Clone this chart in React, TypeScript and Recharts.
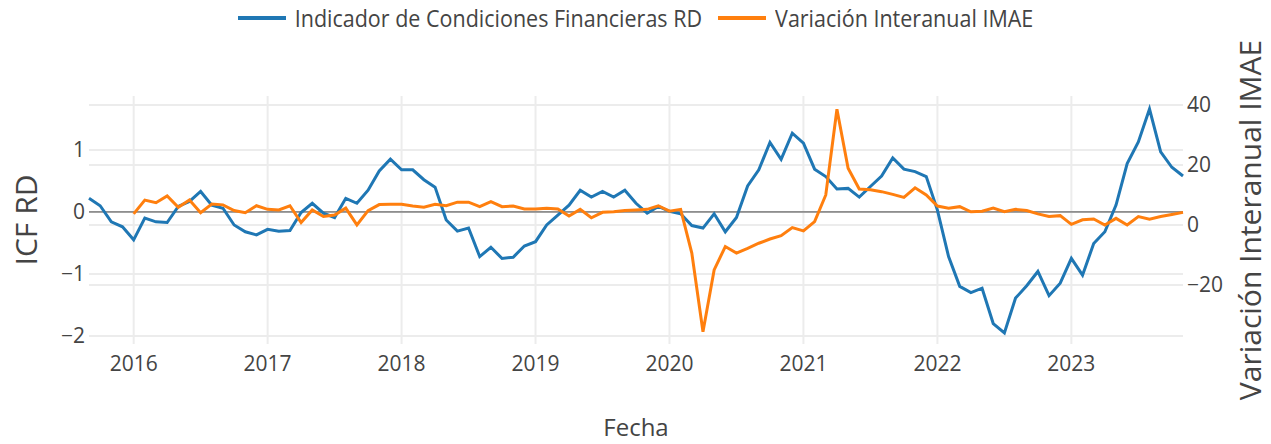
import { LineChart, Line, XAxis, YAxis, CartesianGrid, ReferenceLine, Label } from 'recharts'

// ICF RD, mensual desde 2015-09 hasta 2023-11
const icf = [
  0.22, 0.1, -0.16, -0.24,
  -0.45, -0.1, -0.16, -0.17, 0.09, 0.17, 0.33, 0.11, 0.06, -0.21, -0.32, -0.37,
  -0.28, -0.31, -0.3, -0.01, 0.14, -0.02, -0.09, 0.22, 0.14, 0.35, 0.66, 0.85,
  0.68, 0.68, 0.52, 0.4, -0.13, -0.31, -0.26, -0.72, -0.57, -0.75, -0.73, -0.55,
  -0.48, -0.21, -0.05, 0.11, 0.35, 0.24, 0.33, 0.24, 0.35, 0.14, -0.02, 0.09,
  0.01, -0.03, -0.22, -0.26, -0.03, -0.32, -0.09, 0.42, 0.68, 1.12, 0.85, 1.27,
  1.11, 0.69, 0.57, 0.37, 0.38, 0.24, 0.41, 0.58, 0.87, 0.69, 0.65, 0.57,
  0.03, -0.72, -1.2, -1.3, -1.23, -1.8, -1.95, -1.39, -1.19, -0.96, -1.35, -1.15,
  -0.75, -1.02, -0.51, -0.32, 0.11, 0.78, 1.13, 1.66, 0.97, 0.72, 0.58,
]

// Variación interanual IMAE, mensual desde 2016-01
const imae = [
  3.7, 8.3, 7.4, 9.7, 5.9, 8.3, 4.1, 7.0, 6.7, 4.8, 4.1, 6.4,
  5.2, 5.0, 6.4, 0.8, 5.0, 2.8, 3.3, 5.6, 0.0, 4.8, 6.8, 6.9,
  6.9, 6.3, 5.9, 6.9, 6.4, 7.6, 7.6, 6.1, 7.8, 6.1, 6.3, 5.3,
  5.3, 5.6, 5.3, 3.0, 5.2, 2.4, 4.2, 4.4, 4.8, 5.0, 5.2, 6.4,
  4.6, 5.2, -9.4, -35.6, -15.0, -7.2, -9.4, -7.8, -6.1, -4.7, -3.6, -0.9,
  -2.0, 1.1, 10.0, 38.6, 18.9, 12.0, 11.7, 11.1, 10.2, 9.2, 12.4, 10.0,
  6.3, 5.6, 6.1, 4.4, 4.6, 5.6, 4.4, 5.2, 4.8, 3.7, 2.8, 3.1,
  0.2, 1.7, 2.0, 0.0, 2.2, 0.0, 2.8, 1.9, 2.8, 3.5, 4.2,
]

const years = ['2016', '2017', '2018', '2019', '2020', '2021', '2022', '2023']
const leftTicks = [-2, -1, 0, 1]
const rightTicks = [-20, 0, 20, 40]
const imaeOffset = 4 // meses entre 2015-09 y 2016-01

const data = icf.map((v, i) => ({
  m: i,
  icf: v,
  imae: i >= imaeOffset ? imae[i - imaeOffset] : null,
}))

const yearTicks = years.map((_, k) => imaeOffset + 12 * k)

const BLUE = '#1f77b4'
const ORANGE = '#ff7f0e'
const TEXT = '#444'
const FONT = '"Open Sans", sans-serif'

const minus = (v: number) => (v < 0 ? `\u2212${Math.abs(v)}` : `${v}`)

const tickStyle = { fill: TEXT, fontSize: 21, fontFamily: FONT }

function RotTitle({ x, y, text, size }: { x: number; y: number; text: string; size: number }) {
  return (
    <text
      x={0}
      y={0}
      transform={`translate(${x},${y}) rotate(-90)`}
      textAnchor="middle"
      dominantBaseline="central"
      fill={TEXT}
      fontSize={size}
      fontFamily={FONT}
    >
      {text}
    </text>
  )
}

function LegendItem({ color, text }: { color: string; text: string }) {
  return (
    <div style={{ display: 'flex', alignItems: 'center', marginRight: 16 }}>
      <span style={{ width: 48, height: 4, background: color, marginRight: 9 }} />
      <span style={{ fontSize: 21.5, color: TEXT, fontFamily: FONT, transform: 'scaleY(1.1)' }}>{text}</span>
    </div>
  )
}

export default function App() {
  return (
    <div style={{ position: 'absolute', left: 0, top: 0, width: 1271, height: 444, background: '#fff' }}>
      <div
        style={{
          position: 'absolute',
          top: 3,
          left: 0,
          width: 1271,
          display: 'flex',
          justifyContent: 'center',
          paddingLeft: 16,
          boxSizing: 'border-box',
        }}
      >
        <LegendItem color={BLUE} text="Indicador de Condiciones Financieras RD" />
        <LegendItem color={ORANGE} text="Variación Interanual IMAE" />
      </div>
      <LineChart
        width={1271}
        height={444}
        data={data}
        margin={{ top: 96, right: 0, bottom: 0, left: 0 }}
      >
        <CartesianGrid
          yAxisId="left"
          stroke="#ececec"
          strokeWidth={2}
          horizontalValues={leftTicks}
          verticalValues={yearTicks}
        />
        <CartesianGrid
          yAxisId="right"
          stroke="#ececec"
          strokeWidth={2}
          vertical={false}
          horizontalValues={rightTicks}
        />
        <XAxis
          dataKey="m"
          type="number"
          domain={[0, 98]}
          ticks={yearTicks}
          tickFormatter={(v: number) => years[(v - imaeOffset) / 12]}
          axisLine={false}
          tickLine={false}
          tickSize={0}
          tickMargin={12}
          tick={tickStyle}
          height={100}
        >
          <Label
            content={() => (
              <text x={636} y={436} textAnchor="middle" fill={TEXT} fontSize={24} fontFamily={FONT}>
                Fecha
              </text>
            )}
          />
        </XAxis>
        <YAxis
          yAxisId="left"
          domain={[-2.13, 1.87]}
          ticks={leftTicks}
          allowDataOverflow
          tickFormatter={minus}
          axisLine={false}
          tickLine={false}
          tickSize={0}
          tickMargin={4}
          tick={tickStyle}
          width={89}
        >
          <Label content={() => <RotTitle x={25} y={220} text="ICF RD" size={30} />} />
        </YAxis>
        <YAxis
          yAxisId="right"
          orientation="right"
          domain={[-39.7, 43]}
          ticks={rightTicks}
          allowDataOverflow
          tickFormatter={minus}
          axisLine={false}
          tickLine={false}
          tickSize={0}
          tickMargin={4}
          tick={tickStyle}
          width={88}
        >
          <Label content={() => <RotTitle x={1249} y={220} text="Variación Interanual IMAE" size={30} />} />
        </YAxis>
        <ReferenceLine yAxisId="left" y={0} stroke="#444" strokeWidth={1} />
        <Line
          yAxisId="left"
          type="linear"
          dataKey="icf"
          stroke={BLUE}
          strokeWidth={3}
          dot={false}
          isAnimationActive={false}
        />
        <Line
          yAxisId="right"
          type="linear"
          dataKey="imae"
          stroke={ORANGE}
          strokeWidth={3}
          dot={false}
          connectNulls={false}
          isAnimationActive={false}
        />
      </LineChart>
    </div>
  )
}
